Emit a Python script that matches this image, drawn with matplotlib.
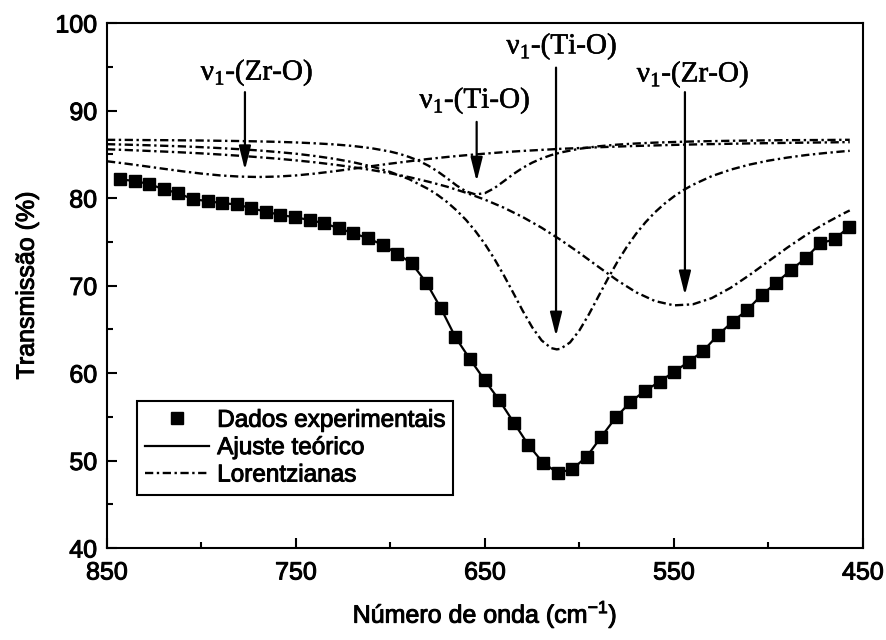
import matplotlib
matplotlib.use("Agg")
import matplotlib.pyplot as plt
from matplotlib.ticker import FixedLocator
import matplotlib.patheffects as pe

plt.rcParams['font.family'] = ['Liberation Sans', 'DejaVu Sans']
plt.rcParams['mathtext.fontset'] = 'custom'
plt.rcParams['mathtext.rm'] = 'Liberation Sans'

# ---- experimental data (wavenumber cm^-1, transmission %) ----
wn_data = [843.1, 835.4, 827.7, 820.0, 812.2, 804.5, 796.8, 789.1, 781.4, 773.6,
           765.9, 758.2, 750.5, 742.8, 735.1, 727.3, 719.6, 711.9, 704.2, 696.5,
           688.8, 681.0, 673.3, 665.6, 657.9, 650.2, 642.5, 634.7, 627.0, 619.3,
           611.6, 603.9, 596.2, 588.4, 580.7, 573.0, 565.3, 557.6, 549.9, 542.1,
           534.4, 526.7, 519.0, 511.3, 503.6, 495.8, 488.1, 480.4, 472.7, 465.0,
           457.3]
t_data = [82.14, 81.94, 81.60, 81.00, 80.54, 79.85, 79.66, 79.40, 79.28, 78.83,
          78.44, 78.06, 77.80, 77.49, 77.11, 76.54, 75.97, 75.40, 74.65, 73.65,
          72.54, 70.32, 67.39, 64.08, 61.57, 59.20, 56.91, 54.32, 51.77, 49.75,
          48.60, 48.99, 50.43, 52.72, 54.94, 56.69, 57.98, 59.00, 60.15, 61.29,
          62.55, 64.34, 65.86, 67.20, 68.91, 70.32, 71.77, 73.11, 74.82, 75.28,
          76.72]

# ---- Lorentzian components ----
wn_a = [850, 840, 830, 820, 810, 800, 790, 780, 770, 760, 750, 740, 730, 720,
        710, 700, 690, 680, 670, 660, 650, 640, 630, 620, 610, 600, 590, 580,
        570, 560, 550, 540, 530, 520, 510, 500, 490, 480, 470, 460, 457]
t_a = [84.20, 83.93, 83.64, 83.34, 83.05, 82.79, 82.58, 82.45, 82.40, 82.45,
       82.58, 82.79, 83.05, 83.34, 83.64, 83.93, 84.20, 84.46, 84.69, 84.89,
       85.07, 85.24, 85.38, 85.50, 85.62, 85.71, 85.80, 85.88, 85.95, 86.01,
       86.07, 86.12, 86.16, 86.20, 86.24, 86.27, 86.30, 86.33, 86.35, 86.38,
       86.38]

wn_b = [850, 840, 830, 820, 810, 800, 790, 780, 770, 760, 750, 740, 730, 720,
        710, 700, 695, 690, 685, 680, 675, 670, 665, 660, 655, 650, 645, 640,
        635, 630, 625, 620, 615, 610, 600, 590, 580, 570, 560, 550, 540, 530,
        520, 510, 500, 490, 480, 470, 460, 457]
t_b = [86.65, 86.64, 86.62, 86.61, 86.59, 86.57, 86.54, 86.51, 86.47, 86.42,
       86.35, 86.25, 86.13, 85.95, 85.69, 85.30, 85.03, 84.68, 84.25, 83.70,
       83.03, 82.25, 81.43, 80.75, 80.41, 80.56, 81.13, 81.92, 82.73, 83.45,
       84.04, 84.52, 84.90, 85.20, 85.63, 85.91, 86.10, 86.23, 86.33, 86.40,
       86.46, 86.50, 86.54, 86.56, 86.59, 86.61, 86.62, 86.63, 86.65, 86.65]

wn_c = [850, 840, 830, 820, 810, 800, 790, 780, 770, 760, 750, 740, 730, 720,
        710, 700, 690, 680, 675, 670, 665, 660, 655, 650, 645, 640, 635, 630,
        625, 620, 615, 612, 610, 605, 600, 595, 590, 585, 580, 575, 570, 565,
        560, 555, 550, 545, 540, 530, 520, 510, 500, 490, 480, 470, 460, 457]
t_c = [86.15, 86.10, 86.04, 85.97, 85.90, 85.81, 85.70, 85.58, 85.44, 85.26,
       85.06, 84.80, 84.49, 84.10, 83.61, 82.97, 82.14, 81.03, 80.34, 79.53,
       78.58, 77.49, 76.20, 74.73, 73.04, 71.16, 69.15, 67.10, 65.22, 63.72,
       62.85, 62.70, 62.77, 63.49, 64.88, 66.71, 68.74, 70.77, 72.68, 74.40,
       75.93, 77.24, 78.38, 79.35, 80.18, 80.90, 81.51, 82.50, 83.24, 83.82,
       84.27, 84.62, 84.91, 85.14, 85.34, 85.39]

wn_d = wn_a
t_d = [85.57, 85.49, 85.40, 85.31, 85.21, 85.10, 84.97, 84.83, 84.67, 84.50,
       84.30, 84.08, 83.82, 83.53, 83.20, 82.82, 82.38, 81.87, 81.29, 80.60,
       79.81, 78.89, 77.82, 76.60, 75.22, 73.72, 72.14, 70.59, 69.22, 68.22,
       67.73, 67.85, 68.56, 69.74, 71.20, 72.77, 74.33, 75.79, 77.10, 78.26,
       78.58]

# ---- annotations: label, arrow x, arrow start y, arrow tip y, text x, text baseline y ----
ann_labels = ['\u03bd$_{\\mathregular{1}}$-(Zr-O)', '\u03bd$_{\\mathregular{1}}$-(Ti-O)',
              '\u03bd$_{\\mathregular{1}}$-(Ti-O)', '\u03bd$_{\\mathregular{1}}$-(Zr-O)']
ann_x = [777, 654.4, 612.4, 544.2]
ann_y0 = [92.1, 88.7, 94.9, 92.1]
ann_y1 = [83.2, 81.9, 64.2, 68.9]
ann_tx = [770.6, 655.3, 609.3, 539.9]
ann_ty = [93.5, 90.3, 96.5, 93.3]

x_ticks = [850, 750, 650, 550, 450]
x_minor = [800, 700, 600, 500]
y_ticks = [40, 50, 60, 70, 80, 90, 100]
y_minor = [45, 55, 65, 75, 85, 95]

legend_labels = ['Dados experimentais', 'Ajuste te\u00f3rico', 'Lorentzianas']

bold = [pe.withStroke(linewidth=0.7, foreground='black')]

fig = plt.figure(figsize=(8.87, 6.4), dpi=100)
ax = fig.add_axes([0.1206, 0.14375, 0.8523, 0.8203])

lor_style = dict(color='black', lw=1.7, dashes=(3.5, 1.5, 1, 1.5))
ln_l, = ax.plot(wn_a, t_a, **lor_style)
ax.plot(wn_b, t_b, **lor_style)
ax.plot(wn_c, t_c, **lor_style)
ax.plot(wn_d, t_d, **lor_style)

ln_fit, = ax.plot(wn_data, t_data, color='black', lw=1.6)
ln_dat, = ax.plot(wn_data, t_data, ls='none', marker='s', ms=8, color='black')

for lab, x, y0, y1, tx, ty in zip(ann_labels, ann_x, ann_y0, ann_y1, ann_tx, ann_ty):
    ax.annotate('', xy=(x, y1), xytext=(x, y0),
                arrowprops=dict(arrowstyle='-|>,head_length=1.2,head_width=0.3',
                                color='black', lw=1.6, shrinkA=0, shrinkB=0,
                                mutation_scale=12))
    t = ax.text(tx, ty, lab, ha='center', va='baseline', fontsize=21,
                family=['Liberation Serif', 'DejaVu Serif'],
                math_fontfamily='custom')
    t.set_path_effects([pe.withStroke(linewidth=0.4, foreground='black')])

ax.set_xlim(850, 450)
ax.set_ylim(40, 100)
ax.xaxis.set_major_locator(FixedLocator(x_ticks))
ax.xaxis.set_minor_locator(FixedLocator(x_minor))
ax.yaxis.set_major_locator(FixedLocator(y_ticks))
ax.yaxis.set_minor_locator(FixedLocator(y_minor))
ax.tick_params(which='both', direction='in', top=False, right=False, width=1.5)
ax.tick_params(which='major', length=7, labelsize=18)
ax.tick_params(which='minor', length=4.5)
ax.tick_params(axis='x', which='major', pad=9)
ax.tick_params(axis='y', which='major', pad=7)
for s in ax.spines.values():
    s.set_linewidth(1.5)
for lab in ax.get_xticklabels() + ax.get_yticklabels():
    lab.set_path_effects(bold)

xl = ax.set_xlabel('N\u00famero de onda (cm$^{\\mathregular{-1}}$)', fontsize=18, labelpad=10)
yl = ax.set_ylabel('Transmiss\u00e3o (%)', fontsize=18, labelpad=12)
xl.set_path_effects(bold)
yl.set_path_effects(bold)

leg = ax.legend([ln_dat, ln_fit, ln_l], legend_labels, loc='lower left',
                bbox_to_anchor=(0.0397, 0.101), fontsize=17.5, frameon=True,
                fancybox=False, edgecolor='black', framealpha=1,
                handlelength=2.6, handletextpad=0.35, labelspacing=0.22,
                borderpad=0.35, borderaxespad=0)
leg.get_frame().set_linewidth(1.5)
for t in leg.get_texts():
    t.set_path_effects(bold)

fig.savefig('out.png', dpi=100)
